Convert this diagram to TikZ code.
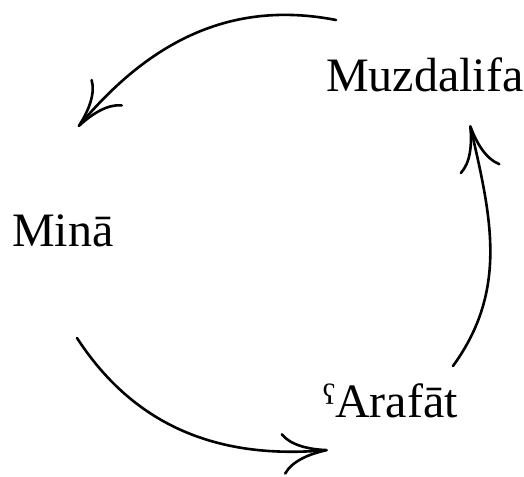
\documentclass[tikz,border=0pt]{standalone}
\usepackage{fontspec}
\setmainfont{Liberation Serif}
\usepackage{tikz}
\usetikzlibrary{arrows.meta, positioning, calc}

\tikzset{
  place/.style={inner sep=0pt, anchor=base west, font=\fontsize{48bp}{58bp}\selectfont},
  leg/.style={line width=2.6bp, line cap=round, -{Computer Modern Rightarrow[length=46bp, width=42bp]}}
}

\begin{document}
\begin{tikzpicture}[x=1bp, y=1bp]
  \useasboundingbox (0,0) rectangle (524,477);
  \node[place] (mina) at (12,230) {Minā};
  \node[place] (muzdalifa) at (326,385) {Muzdalifa};
  \node[place] (arafat) at (323,59) {ˤArafāt};
  \draw[leg] ([shift={(10,72)}]muzdalifa.base west) to[out=169, in=50] ([shift={(66,120)}]mina.base west);
  \draw[leg] ([shift={(65,-91)}]mina.base west) to[out=303, in=185] ([shift={(5,-32)}]arafat.base west);
  \draw[leg] ([shift={(130,52)}]arafat.base west) to[out=54, in=283] ([shift={(144,-33)}]muzdalifa.base west);
\end{tikzpicture}
\end{document}
